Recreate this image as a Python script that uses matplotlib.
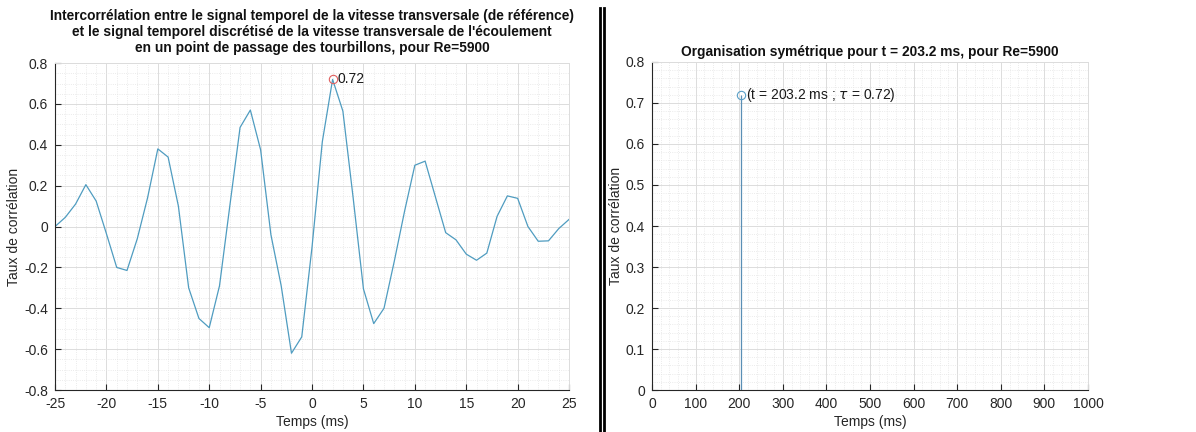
import numpy as np
import matplotlib
matplotlib.use('Agg')
import matplotlib.pyplot as plt
from matplotlib.lines import Line2D
from matplotlib.ticker import MultipleLocator, FuncFormatter

plt.rcParams['font.family'] = ['Liberation Sans', 'DejaVu Sans']
plt.rcParams['mathtext.fontset'] = 'dejavusans'
plt.rcParams['axes.unicode_minus'] = False

# --- Data: cross-correlation vs lag (ms) ---
lags = list(range(-25, 26))
corr = [0.00, 0.045, 0.11, 0.205, 0.125, -0.035, -0.20, -0.215, -0.06, 0.14,
        0.38, 0.34, 0.10, -0.30, -0.45, -0.495, -0.29, 0.10, 0.485, 0.57,
        0.375, -0.04, -0.29, -0.62, -0.54, -0.10, 0.415, 0.72, 0.565, 0.14,
        -0.305, -0.475, -0.40, -0.17, 0.075, 0.30, 0.32, 0.145, -0.03, -0.065,
        -0.135, -0.165, -0.13, 0.05, 0.15, 0.138, 0.0, -0.072, -0.07, -0.01,
        0.035]
peak_lag = 2
peak_val = 0.72

# --- Data: symmetric organisation time ---
t_sym = [203.2]
tau_sym = [0.72]

line_col = '#4f9cc0'
axis_col = '#262626'
fs_tick = 10
fs_label = 10


def fmt(v, pos):
    # matlab-like tick labels: 0, 0.2, -0.4 ...
    s = f'{v:.2f}'.rstrip('0').rstrip('.')
    return '0' if s in ('-0', '') else s


def matlab_style(ax):
    ax.grid(True, which='major', color='#dcdcdc', linewidth=0.7)
    ax.grid(True, which='minor', color='#e4e4e4', linewidth=0.6, linestyle=':')
    ax.set_axisbelow(True)
    ax.tick_params(which='both', direction='in', top=False, right=False,
                   colors=axis_col, labelsize=fs_tick, labelcolor=axis_col)
    ax.tick_params(which='major', length=4, width=0.8, pad=5)
    ax.tick_params(which='minor', length=0)
    ax.xaxis.set_major_formatter(FuncFormatter(fmt))
    ax.yaxis.set_major_formatter(FuncFormatter(fmt))
    for s in ['left', 'bottom']:
        ax.spines[s].set_color(axis_col)
        ax.spines[s].set_linewidth(0.8)
    for s in ['top', 'right']:
        ax.spines[s].set_color('#dcdcdc')
        ax.spines[s].set_linewidth(0.7)


fig = plt.figure(figsize=(11.96, 4.32), dpi=100)

# --- Left: cross-correlation ---
ax1 = fig.add_axes([0.046, 0.0972, 0.4298, 0.7568])
ax1.plot(lags, corr, color=line_col, linewidth=0.9)
ax1.plot([peak_lag], [peak_val], 'o', markersize=6, markerfacecolor='none',
         markeredgecolor='#e06060', markeredgewidth=0.8)
ax1.text(peak_lag + 0.45, peak_val, f'{peak_val:.2f}', fontsize=fs_tick,
         va='center', ha='left', color='#1a1a1a')
ax1.set_xlim(-25, 25)
ax1.set_ylim(-0.8, 0.8)
ax1.xaxis.set_major_locator(MultipleLocator(5))
ax1.xaxis.set_minor_locator(MultipleLocator(1))
ax1.yaxis.set_major_locator(MultipleLocator(0.2))
ax1.yaxis.set_minor_locator(MultipleLocator(0.05))
matlab_style(ax1)
ax1.set_xlabel('Temps (ms)', fontsize=fs_label, color=axis_col, labelpad=3)
ax1.set_ylabel('Taux de corrélation', fontsize=fs_label, color=axis_col, labelpad=2)
ax1.set_title("Intercorrélation entre le signal temporel de la vitesse transversale (de référence)\n"
              "et le signal temporel discrétisé de la vitesse transversale de l'écoulement\n"
              "en un point de passage des tourbillons, pour Re=5900",
              fontsize=9.9, fontweight='bold', color='#111111', pad=8, linespacing=1.2)

# --- Right: stem ---
ax2 = fig.add_axes([0.5452, 0.0972, 0.3645, 0.7593])
ml, sl, bl = ax2.stem(t_sym, tau_sym, basefmt=' ')
plt.setp(sl, color='#5a8fb5', linewidth=0.9)
plt.setp(ml, markerfacecolor='none', markeredgecolor='#5aa0c8',
         markersize=6, markeredgewidth=0.8)
ax2.text(t_sym[0] + 12, tau_sym[0], f'(t = {t_sym[0]} ms ; $\\tau$ = {tau_sym[0]:.2f})',
         fontsize=fs_tick, va='center', ha='left', color='#1a1a1a')
ax2.set_xlim(0, 1000)
ax2.set_ylim(0, 0.8)
ax2.xaxis.set_major_locator(MultipleLocator(100))
ax2.xaxis.set_minor_locator(MultipleLocator(20))
ax2.yaxis.set_major_locator(MultipleLocator(0.1))
ax2.yaxis.set_minor_locator(MultipleLocator(0.02))
matlab_style(ax2)
ax2.set_xlabel('Temps (ms)', fontsize=fs_label, color=axis_col, labelpad=3)
ax2.set_ylabel('Taux de corrélation', fontsize=fs_label, color=axis_col, labelpad=2)
ax2.set_title('Organisation symétrique pour t = 203.2 ms, pour Re=5900',
              fontsize=9.9, fontweight='bold', color='#111111', pad=4)

# --- Double separator line between the two figures ---
for xs in [0.5013, 0.5050]:
    fig.add_artist(Line2D([xs, xs], [0, 0.982], transform=fig.transFigure,
                          color='black', linewidth=2.0))

fig.savefig('out.png', dpi=100, facecolor='white')
